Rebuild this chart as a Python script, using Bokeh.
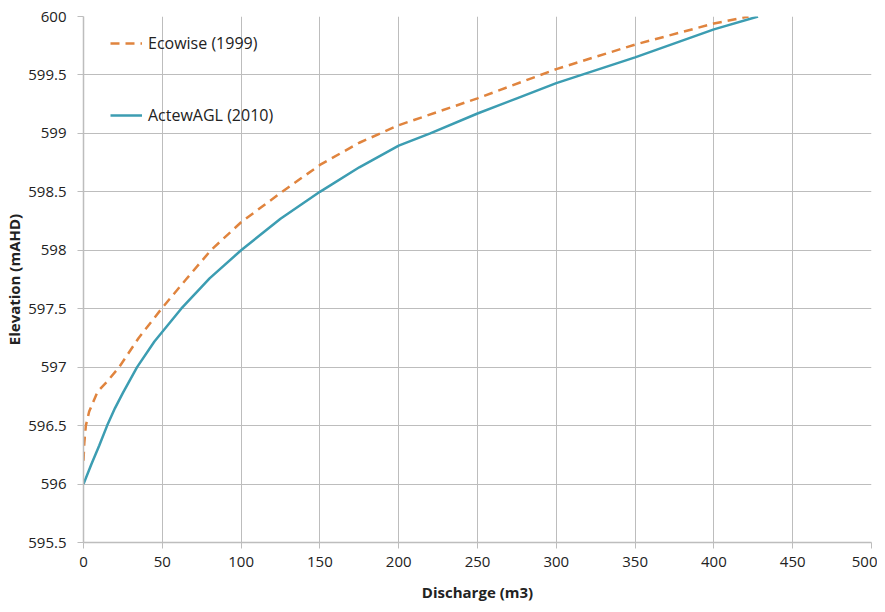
from bokeh.plotting import figure
from bokeh.models import FixedTicker, Range1d, Legend, LegendItem
from bokeh.embed import file_html
from bokeh.resources import INLINE

# ActewAGL (2010) rating curve
actew_x = [0, 5, 10, 15, 20, 25, 34, 45, 62, 80, 100, 125, 150, 175, 200, 220, 250, 275, 300, 350, 400, 428]
actew_y = [596.0, 596.17, 596.33, 596.5, 596.65, 596.78, 597.0, 597.22, 597.5, 597.76, 598.0, 598.27, 598.5,
           598.71, 598.895, 599.0, 599.17, 599.30, 599.43, 599.65, 599.89, 600.0]

# Ecowise (1999) rating curve
eco_x = [0, 0.5, 1.5, 3.6, 8.9, 15.2, 22.6, 35, 49.5, 65, 80.8, 100, 126, 150, 175, 200, 250, 300, 350, 400, 422]
eco_y = [596.2, 596.35, 596.5, 596.62, 596.79, 596.88, 597.0, 597.25, 597.5, 597.75, 598.0, 598.24, 598.5,
         598.73, 598.92, 599.07, 599.3, 599.55, 599.76, 599.94, 600.0]

x_ticks = [0, 50, 100, 150, 200, 250, 300, 350, 400, 450, 500]
y_ticks = [595.5, 596, 596.5, 597, 597.5, 598, 598.5, 599, 599.5, 600]
y_tick_labels = ["595.5", "596", "596.5", "597", "597.5", "598", "598.5", "599", "599.5", "600"]

FONT = "Open Sans"
GRID = "#bdbdbd"

p = figure(width=877, height=604, output_backend="svg", toolbar_location=None,
           x_range=Range1d(0, 500), y_range=Range1d(595.5, 600),
           min_border_left=83, min_border_right=6, min_border_top=16, min_border_bottom=62)
p.outline_line_color = None
p.background_fill_color = "white"

l_eco = p.line(eco_x, eco_y, line_color="#E0843E", line_width=2.5, line_dash="9 6")
l_act = p.line(actew_x, actew_y, line_color="#3C9DB2", line_width=2.5)

p.xaxis.ticker = FixedTicker(ticks=x_ticks)
p.yaxis.ticker = FixedTicker(ticks=y_ticks)
p.yaxis.major_label_overrides = {t: s for t, s in zip(y_ticks, y_tick_labels)}
p.xaxis.minor_tick_line_color = None
p.yaxis.minor_tick_line_color = None
for ax in (p.xaxis, p.yaxis):
    ax.axis_line_color = GRID
    ax.axis_line_width = 1.5
    ax.major_tick_line_color = GRID
    ax.major_tick_in = 0
    ax.major_tick_out = 6
    ax.major_label_text_font = FONT
    ax.major_label_text_font_size = "15px"
    ax.major_label_text_color = "#222222"
    ax.axis_label_text_font = FONT
    ax.axis_label_text_font_size = "15px"
    ax.axis_label_text_font_style = "bold"
    ax.axis_label_text_color = "#222222"
p.xaxis.axis_label = "Discharge (m3)"
p.yaxis.axis_label = "Elevation (mAHD)"
p.xaxis.major_label_standoff = 8
p.xaxis.axis_label_standoff = 12
p.yaxis.major_label_standoff = 11
p.yaxis.axis_label_standoff = 1

p.xgrid.ticker = FixedTicker(ticks=x_ticks)
p.ygrid.ticker = FixedTicker(ticks=y_ticks)
p.grid.grid_line_color = GRID
p.grid.grid_line_width = 1

legend = Legend(items=[LegendItem(label="Ecowise (1999)", renderers=[l_eco]),
                       LegendItem(label="ActewAGL (2010)", renderers=[l_act])],
                location=(27, 416), orientation="vertical")
legend.padding = 0
legend.margin = 0
legend.spacing = 50
legend.glyph_width = 32
legend.glyph_height = 20
legend.label_height = 20
legend.label_standoff = 6
legend.border_line_color = None
legend.background_fill_alpha = 0
legend.label_text_font = FONT
legend.label_text_font_size = "16px"
legend.label_text_color = "#222222"
p.add_layout(legend, "center")

open("out.html", "w").write(file_html(p, INLINE))
